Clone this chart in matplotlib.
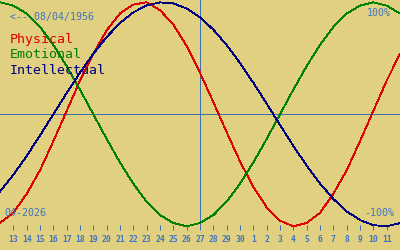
import matplotlib
matplotlib.use("Agg")
import matplotlib.pyplot as plt
import numpy as np

# Day labels (index 0 = the 13th); x range spans index -1 .. 29
day_labels = ["13", "14", "15", "16", "17", "18", "19", "20", "21", "22",
              "23", "24", "25", "26", "27", "28", "29", "30", "1", "2",
              "3", "4", "5", "6", "7", "8", "9", "10", "11"]
day_index = list(range(-1, 30))
today_index = 14

physical = [-0.97, -0.88, -0.71, -0.50, -0.24, 0.03, 0.30, 0.54, 0.75, 0.90,
            0.98, 1.00, 0.93, 0.80, 0.61, 0.37, 0.11, -0.16, -0.42, -0.65,
            -0.83, -0.95, -1.00, -0.97, -0.88, -0.71, -0.50, -0.24, 0.03, 0.30,
            0.54]
emotional = [1.00, 0.97, 0.90, 0.78, 0.62, 0.43, 0.22, 0.00, -0.22, -0.43,
             -0.62, -0.78, -0.90, -0.97, -1.00, -0.97, -0.90, -0.78, -0.62, -0.43,
             -0.22, 0.00, 0.22, 0.43, 0.62, 0.78, 0.90, 0.97, 1.00, 0.97,
             0.90]
intellectual = [-0.690, -0.541, -0.372, -0.189, 0.000, 0.189, 0.372, 0.541, 0.690, 0.815,
                0.910, 0.972, 0.999, 0.990, 0.945, 0.866, 0.756, 0.618, 0.458, 0.282,
                0.095, -0.095, -0.282, -0.458, -0.618, -0.756, -0.866, -0.945, -0.990, -0.999,
                -0.972]

series_names = ["Physical", "Emotional", "Intellectual"]
series_colors = ["#e00000", "#008000", "#000080"]
birth_text = "<-- 08/04/1956"
month_text = "04-2026"
top_text = "100%"
bottom_text = "-100%"

bg = "#e0d080"
axis_blue = "#3c6fb4"
text_blue = "#3f74c0"

W, H = 400, 250
fig = plt.figure(figsize=(W / 100, H / 100), dpi=100, facecolor=bg)
axis_y = 230.3
ax = fig.add_axes([0, (H - axis_y) / H, 1, axis_y / H])
ax.set_facecolor(bg)

center_px = 114.3
amp_px = 112.0
ax.set_xlim(-1, 29)
ax.set_ylim((center_px - axis_y) / amp_px, center_px / amp_px)

px = 0.72  # one pixel in points
ax.axhline(0, color=axis_blue, lw=px, antialiased=False, zorder=1)
ax.axvline(today_index, color=axis_blue, lw=px, antialiased=False, zorder=1)

for vals, col in zip([physical, emotional, intellectual], series_colors):
    ax.plot(day_index, vals, color=col, lw=0.6, antialiased=False, zorder=3)

for s in ax.spines.values():
    s.set_visible(False)
ax.set_yticks([])
ax.set_xticks(list(range(len(day_labels))))
ax.set_xticklabels(day_labels, family="DejaVu Sans Mono", fontsize=5.8,
                   fontweight="bold", color=text_blue)
ax.tick_params(axis="x", direction="in", length=3.6, width=px,
               color=axis_blue, pad=3.4)

mono = "DejaVu Sans Mono"
fig.text(10 / W, 1 - 20 / H, birth_text, family=mono, fontsize=7.2,
         color=text_blue, ha="left", va="baseline")
baselines = [42.7, 58.3, 73.5]
for name, col, b in zip(series_names, series_colors, baselines):
    fig.text(10 / W, 1 - b / H, name, family=mono, fontsize=9.5,
             color=col, ha="left", va="baseline")
fig.text(391 / W, 1 - 16 / H, top_text, family=mono, fontsize=7.2,
         color=text_blue, ha="right", va="baseline")
fig.text(394.5 / W, 1 - 216 / H, bottom_text, family=mono, fontsize=7.2,
         color=text_blue, ha="right", va="baseline")
fig.text(4.5 / W, 1 - 216 / H, month_text, family=mono, fontsize=7.2,
         color=text_blue, ha="left", va="baseline")

fig.savefig("out.png", dpi=100, facecolor=bg)
